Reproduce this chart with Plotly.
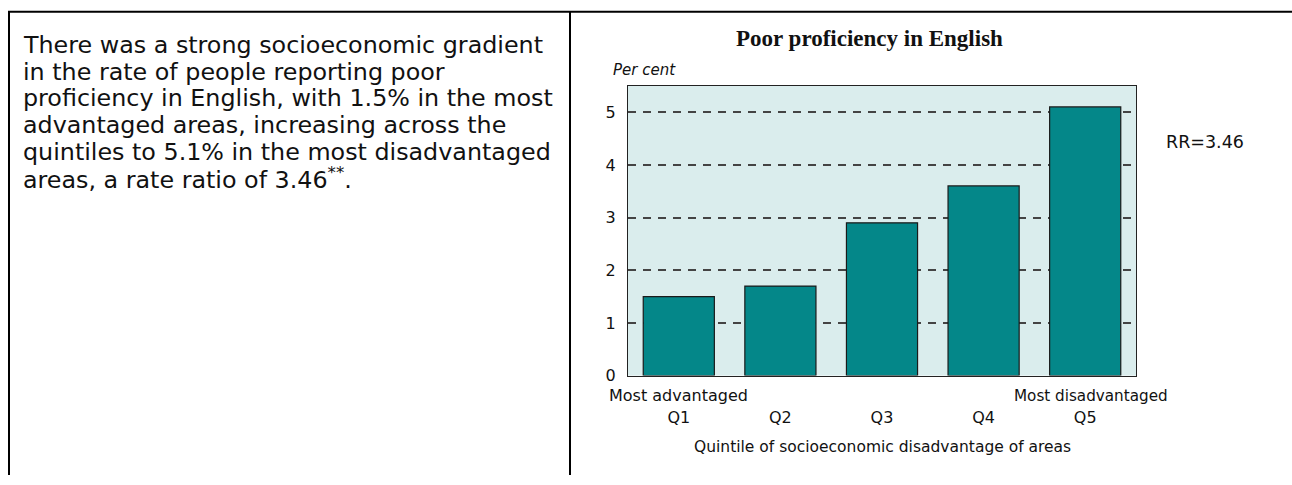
import plotly.graph_objects as go

# ---- data ----
categories = ["Q1", "Q2", "Q3", "Q4", "Q5"]
values = [1.5, 1.7, 2.9, 3.6, 5.1]
y_ticks = [0, 1, 2, 3, 4, 5]
end_labels = {"Q1": "Most advantaged", "Q5": "Most disadvantaged"}
title_text = "Poor proficiency in English"
y_title = "Per cent"
x_title = "Quintile of socioeconomic disadvantage of areas"
rr_text = "RR=3.46"
paragraph_lines = [
    "There was a strong socioeconomic gradient",
    "in the rate of people reporting poor",
    "proficiency in English, with 1.5% in the most",
    "advantaged areas, increasing across the",
    "quintiles to 5.1% in the most disadvantaged",
    "areas, a rate ratio of 3.46<sup>**</sup>.",
]

W, H = 1292, 485
def px(x):
    return x / W
def py(y):
    return 1 - y / H

SANS = "DejaVu Sans"

fig = go.Figure()
fig.add_trace(go.Bar(
    x=categories, y=values,
    marker=dict(color="#048789", line=dict(color="#1a1a1a", width=1.2)),
    width=0.7,
    hoverinfo="skip",
))

plot_left, plot_right, plot_top, plot_bottom = 628, 1136, 87.7, 383.5

fig.update_layout(
    width=W, height=H,
    margin=dict(l=0, r=0, t=0, b=0),
    paper_bgcolor="white",
    plot_bgcolor="#DAEDED",
    showlegend=False,
    font=dict(family=SANS, color="#111"),
    xaxis=dict(
        domain=[px(plot_left), px(plot_right)],
        range=[-0.5, 4.5], autorange=False,
        showline=True, mirror=True, linecolor="#222", linewidth=1,
        showgrid=False, ticks="", tickfont=dict(size=16, family=SANS, color="#111"),
        ticklabelstandoff=27,
    ),
    yaxis=dict(
        domain=[py(plot_bottom), py(plot_top)],
        range=[0, 5.5], autorange=False,
        tickvals=y_ticks,
        showline=True, mirror=True, linecolor="#222", linewidth=1,
        showgrid=True, gridcolor="#444", gridwidth=1.5, griddash="8px,7px",
        zeroline=False, ticks="", tickfont=dict(size=16, family=SANS, color="#111"),
        ticklabelstandoff=8,
    ),
)

annotations = []
# chart title
annotations.append(dict(x=px(869), y=py(39), xref="paper", yref="paper",
                        text="<b>" + title_text + "</b>", showarrow=False,
                        font=dict(family="Liberation Serif", size=23, color="#111"),
                        xanchor="center", yanchor="middle"))
annotations.append(dict(x=px(611), y=py(71.5), xref="paper", yref="paper",
                        text="<i>" + y_title + "</i>", showarrow=False,
                        font=dict(family=SANS, size=15, color="#111"),
                        xanchor="left", yanchor="middle"))
annotations.append(dict(x=px((plot_left + plot_right) / 2), y=py(456), xref="paper", yref="paper",
                        text=x_title, showarrow=False,
                        font=dict(family=SANS, size=15.5, color="#111"),
                        xanchor="center", yanchor="middle"))
annotations.append(dict(x=px(1164), y=py(145), xref="paper", yref="paper",
                        text=rr_text, showarrow=False,
                        font=dict(family=SANS, size=17.5, color="#111"),
                        xanchor="left", yanchor="middle"))
end_sizes = {"Q1": 16, "Q5": 15.2}
end_shift = {"Q1": 0, "Q5": 6}
for cat, lab in end_labels.items():
    annotations.append(dict(x=cat, y=py(404), xref="x", yref="paper",
                            text=lab, showarrow=False, xshift=end_shift[cat],
                            font=dict(family=SANS, size=end_sizes[cat], color="#111"),
                            xanchor="center", yanchor="middle"))
line_start, line_step = 46, 27.2
for i, ln in enumerate(paragraph_lines):
    annotations.append(dict(x=px(21), y=py(line_start + i * line_step), xref="paper", yref="paper",
                            text=ln, showarrow=False,
                            font=dict(family=SANS, size=23.8, color="#111"),
                            xanchor="left", yanchor="middle"))
fig.update_layout(annotations=annotations)

# frame lines
frame = dict(type="line", xref="paper", yref="paper", line=dict(color="black", width=2))
fig.add_shape(**frame, x0=px(8), x1=1, y0=py(12), y1=py(12))
fig.add_shape(**frame, x0=px(9), x1=px(9), y0=py(12), y1=0)
fig.add_shape(**frame, x0=px(570), x1=px(570), y0=py(12), y1=0)

fig.write_html(
    "out.html",
    config={"displayModeBar": False},
    post_script="document.body.style.margin='0';document.body.style.overflow='hidden';",
)
